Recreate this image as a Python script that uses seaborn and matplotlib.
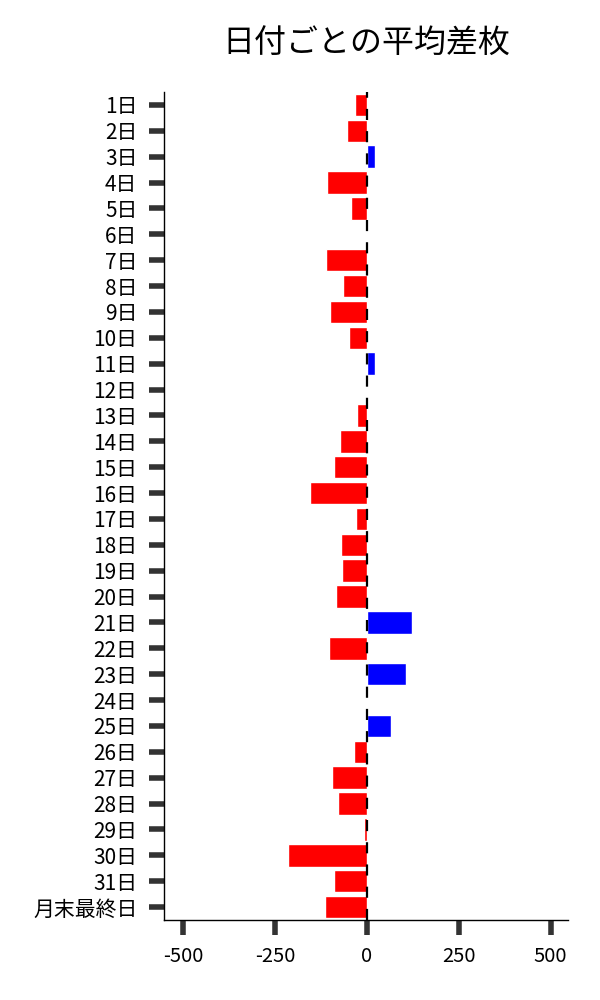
import matplotlib
matplotlib.use("Agg")
import matplotlib.pyplot as plt
import seaborn as sns
import pandas as pd

days = [f"{i}日" for i in range(1, 32)] + ["月末最終日"]
values = [-33, -54, 22, -109, -43, 1.5, -111, -65, -100, -49, 22, 1.5,
          -27, -73, -90, -155, -30, -71, -68, -84, 122, -103, 106, 0,
          65, -35, -95, -79, -8, -215, -90, -114]
x_ticks = [-500, -250, 0, 250, 500]

df = pd.DataFrame({"day": days, "value": values})
df["sign"] = ["pos" if v >= 0 else "neg" for v in values]

sns.set_theme(style="white")
plt.rcParams["font.family"] = ["Noto Sans CJK JP", "DejaVu Sans"]
plt.rcParams["text.color"] = "black"
plt.rcParams["xtick.labelcolor"] = "black"
plt.rcParams["ytick.labelcolor"] = "black"

fig = plt.figure(figsize=(6, 10), dpi=100)
ax = fig.add_axes([0.273, 0.08, 0.674, 0.828])

sns.barplot(data=df, y="day", x="value", hue="sign", order=days,
            palette={"pos": "#0000ff", "neg": "#ff0000"}, dodge=False,
            legend=False, width=0.87, saturation=1, ax=ax)

ax.axvline(0, color="black", lw=1.6, linestyle=(0, (5, 5)), zorder=5)

ax.set_xlim(-552, 548)
ax.set_xticks(x_ticks)
ax.set_xticklabels([str(t) for t in x_ticks])
ax.set_xlabel("")
ax.set_ylabel("")
ax.set_title("日付ごとの平均差枚", fontsize=23, pad=28, color="black")

for s in ["top", "right"]:
    ax.spines[s].set_visible(False)
for s in ["left", "bottom"]:
    ax.spines[s].set_color("black")
    ax.spines[s].set_linewidth(1.0)

ax.tick_params(axis="y", length=11, width=4, color="#333333", pad=8,
               labelsize=15, left=True, labelcolor="black")
ax.tick_params(axis="x", length=10.5, width=4, color="#333333", pad=8,
               labelsize=14.5, bottom=True, labelcolor="black")

fig.savefig("out.png", dpi=100)
